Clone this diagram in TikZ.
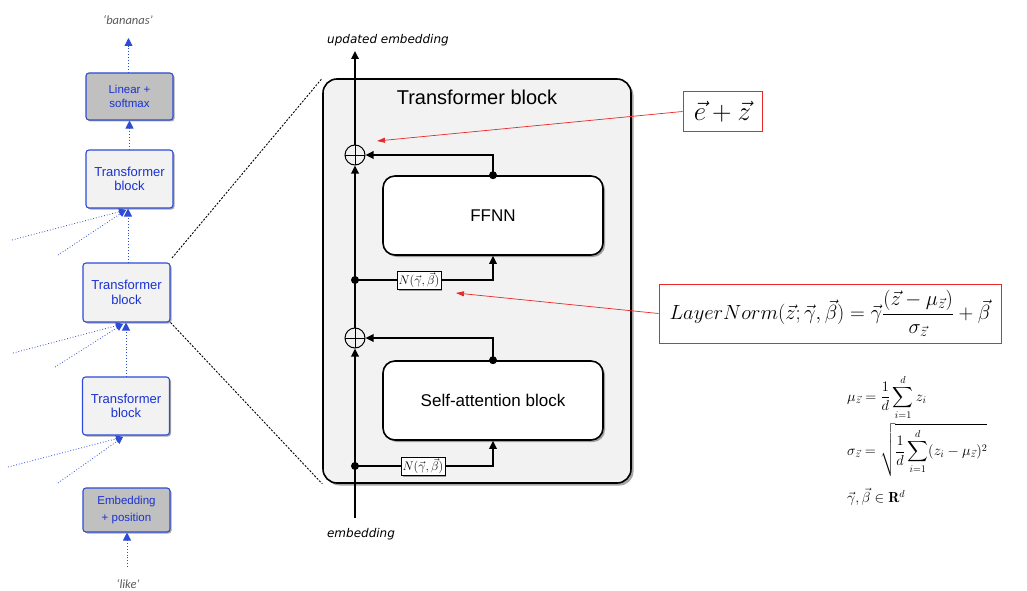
\RequirePackage{fix-cm}
\documentclass[tikz,border=0pt]{standalone}
\usepackage{fontspec}
\usepackage{amsmath}
\newfontfamily\arialf{Liberation Sans}
\newfontfamily\dejaf{DejaVu Sans}
\newfontfamily\carlf{Carlito}
\usetikzlibrary{arrows.meta,shadows}
\definecolor{lblue}{RGB}{45,75,215}
\definecolor{ltext}{RGB}{25,50,210}
\definecolor{lfill}{RGB}{242,242,242}
\definecolor{lgray}{RGB}{192,192,192}
\definecolor{tgray}{RGB}{90,90,90}
\definecolor{rline}{RGB}{235,40,40}
\begin{document}
\begin{tikzpicture}[x=1pt,y=-1pt,
  shad/.style={drop shadow={shadow xshift=1.5pt,shadow yshift=-1.5pt,opacity=0.35,fill=black}},
  lbox/.style={draw=lblue, line width=1.1pt, rounded corners=3pt, fill=lfill, text=ltext, align=center,
    inner sep=0pt, minimum width=87pt, font=\arialf\fontsize{13}{14.5}\selectfont, shad},
  gbox/.style={lbox, fill=lgray, font=\arialf\fontsize{11.5}{14}\selectfont},
  larrow/.style={draw=lblue, line width=0.9pt, dotted, -{Triangle[length=8pt,width=8pt]}},
  side/.style={draw=lblue, line width=0.8pt, dotted, -{Triangle[length=7pt,width=7pt]}},
  wtext/.style={font=\carlf\itshape\fontsize{12.5}{14}\selectfont, text=tgray},
  mbox/.style={draw, line width=1.6pt, rounded corners=14pt, fill=lfill, minimum width=308pt, minimum height=404pt, inner sep=0pt,
    drop shadow={shadow xshift=2.5pt,shadow yshift=-2.5pt,opacity=0.35,fill=black}},
  ibox/.style={draw, line width=1.6pt, rounded corners=12pt, fill=white, minimum width=220pt, minimum height=79pt, inner sep=0pt,
    font=\arialf\fontsize{17}{20}\selectfont, drop shadow={shadow xshift=2pt,shadow yshift=-2pt,opacity=0.35,fill=black}},
  wire/.style={line width=1.7pt},
  warrow/.style={wire, -{Triangle[length=8pt,width=7.5pt]}},
  dotn/.style={circle, fill, inner sep=0pt, minimum size=8pt},
  plusn/.style={circle, draw, line width=1pt, minimum size=20pt, inner sep=0pt,
    path picture={\draw[line width=1pt] (path picture bounding box.north) -- (path picture bounding box.south)
      (path picture bounding box.west) -- (path picture bounding box.east);}},
  nbox/.style={draw, fill=white, line width=0.6pt, inner sep=1.5pt, font=\fontsize{12.5}{14}\selectfont, shad},
  ltext/.style={font=\dejaf\itshape\fontsize{12}{14}\selectfont},
  rbox/.style={draw=rline, line width=1pt, fill=white, inner sep=0pt},
  rarrow/.style={draw=rline, line width=0.7pt, -{Triangle[length=8pt,width=5pt]}},
  mathn/.style={anchor=west, inner sep=0pt, font=\fontsize{14.5}{17}\selectfont}
]
\useasboundingbox (0,0) rectangle (1027,591);
\fill[white] (0,0) rectangle (1027,591);

% ---------- left column ----------
\node[wtext] (bananas) at (128,20) {‘bananas’};
\node[wtext] (like) at (128,584) {‘like’};
\node[gbox, minimum height=47pt] (lin) at (129.5,96.5) {Linear +\\softmax};
\node[lbox, minimum height=58pt] (tb1) at (129.5,179) {Transformer\\block};
\node[lbox, minimum height=59pt] (tb2) at (126.5,292.5) {Transformer\\block};
\node[lbox, minimum height=58pt] (tb3) at (126,406) {Transformer\\block};
\node[gbox, minimum height=44pt, font=\arialf\fontsize{11.5}{17}\selectfont] (emb) at (126.5,510) {Embedding\\+ position};

\coordinate (top) at (128.5,38);
\coordinate (bot) at (127,567);
\draw[larrow] (lin.north -| top) -- (top);
\draw[larrow] (tb1.north) -- (lin.south);
\draw[larrow] (tb2.north -| 128,0) -- (tb1.south -| 128,0);
\draw[larrow] (tb3.north) -- (tb3.north |- tb2.south);
\draw[larrow] (bot) -- (emb.south -| bot);

\coordinate (s1a) at (12,240); \coordinate (s1b) at (58,255); \coordinate (e1) at (126,210);
\coordinate (s2a) at (13,353); \coordinate (s2b) at (55,367); \coordinate (e2) at (123,324);
\coordinate (s3a) at (8,467);  \coordinate (s3b) at (58,483); \coordinate (e3) at (123,437);
\draw[side] (s1a) -- (e1); \draw[side] (s1b) -- (e1);
\draw[side] (s2a) -- (e2); \draw[side] (s2b) -- (e2);
\draw[side] (s3a) -- (e3); \draw[side] (s3b) -- (e3);

% ---------- main block ----------
\node[mbox] (tblk) at (477,281) {};
\coordinate (dt) at (172,258);
\draw[dash pattern=on 2pt off 1.5pt, line width=0.9pt] (dt) -- (tblk.north west);
\draw[dash pattern=on 2pt off 1.5pt, line width=0.9pt] (tb2.south east) -- (tblk.south west);
\node[font=\arialf\fontsize{20}{24}\selectfont] (title) at (477,97) {Transformer block};
\node[ibox] (ffnn) at (493,215.5) {FFNN};
\node[ibox] (sa) at (493,400.5) {Self-attention block};
\node[plusn] (plus1) at (355,155) {};
\node[plusn] (plus2) at (355,338) {};
\coordinate (in) at (355,518);
\coordinate (out) at (355,51);
\node[dotn] (d1) at (355,466) {};
\node[dotn] (d2) at (355,280) {};
\node[dotn] (fa) at (ffnn.north) {};
\node[dotn] (sb) at (sa.north) {};

\draw[warrow] (in) -- (plus2.south);
\draw[warrow] (plus2.north) -- (plus1.south);
\draw[warrow] (plus1.north) -- (out);
\draw[warrow] (d1.center) -| (sa.south);
\draw[warrow] (sb.center) |- (plus2.east);
\draw[warrow] (d2.center) -| (ffnn.south);
\draw[warrow] (fa.center) |- (plus1.east);
\node[nbox] (n1) at (423,466) {$N(\vec{\gamma},\vec{\beta})$};
\node[nbox] (n2) at (419,280) {$N(\vec{\gamma},\vec{\beta})$};

\node[ltext] (upd) at (388,40) {updated embedding};
\node[ltext] (embl) at (361,534) {embedding};

% ---------- red annotations ----------
\node[rbox, minimum width=79pt, minimum height=39pt, font=\fontsize{27}{30}\selectfont] (ez) at (722.5,111.5) {$\vec{e}+\vec{z}$};
\node[rbox, minimum width=342pt, minimum height=59pt, font=\fontsize{20.5}{24}\selectfont] (ln) at (830,313.5)
  {$LayerNorm(\vec{z};\vec{\gamma},\vec{\beta})=\vec{\gamma}\dfrac{(\vec{z}-\mu_{\vec{z}})}{\sigma_{\vec{z}}}+\vec{\beta}$};
\coordinate (ezt) at (377,141);
\coordinate (lnt) at (456,293);
\draw[rarrow] (ez.west) -- (ezt);
\draw[rarrow] (ln.west) -- (lnt);

% ---------- formulas ----------
\node[mathn] (mu) at (847,397) {$\displaystyle \mu_{\vec{z}}=\frac{1}{d}\sum_{i=1}^{d} z_i$};
\node[mathn] (sig) at (847,450) {$\displaystyle \sigma_{\vec{z}}=\sqrt{\frac{1}{d}\sum_{i=1}^{d}(z_i-\mu_{\vec{z}})^2}$};
\node[mathn] (gb) at (847,497) {$\vec{\gamma},\vec{\beta}\in\mathbf{R}^d$};
\end{tikzpicture}
\end{document}
